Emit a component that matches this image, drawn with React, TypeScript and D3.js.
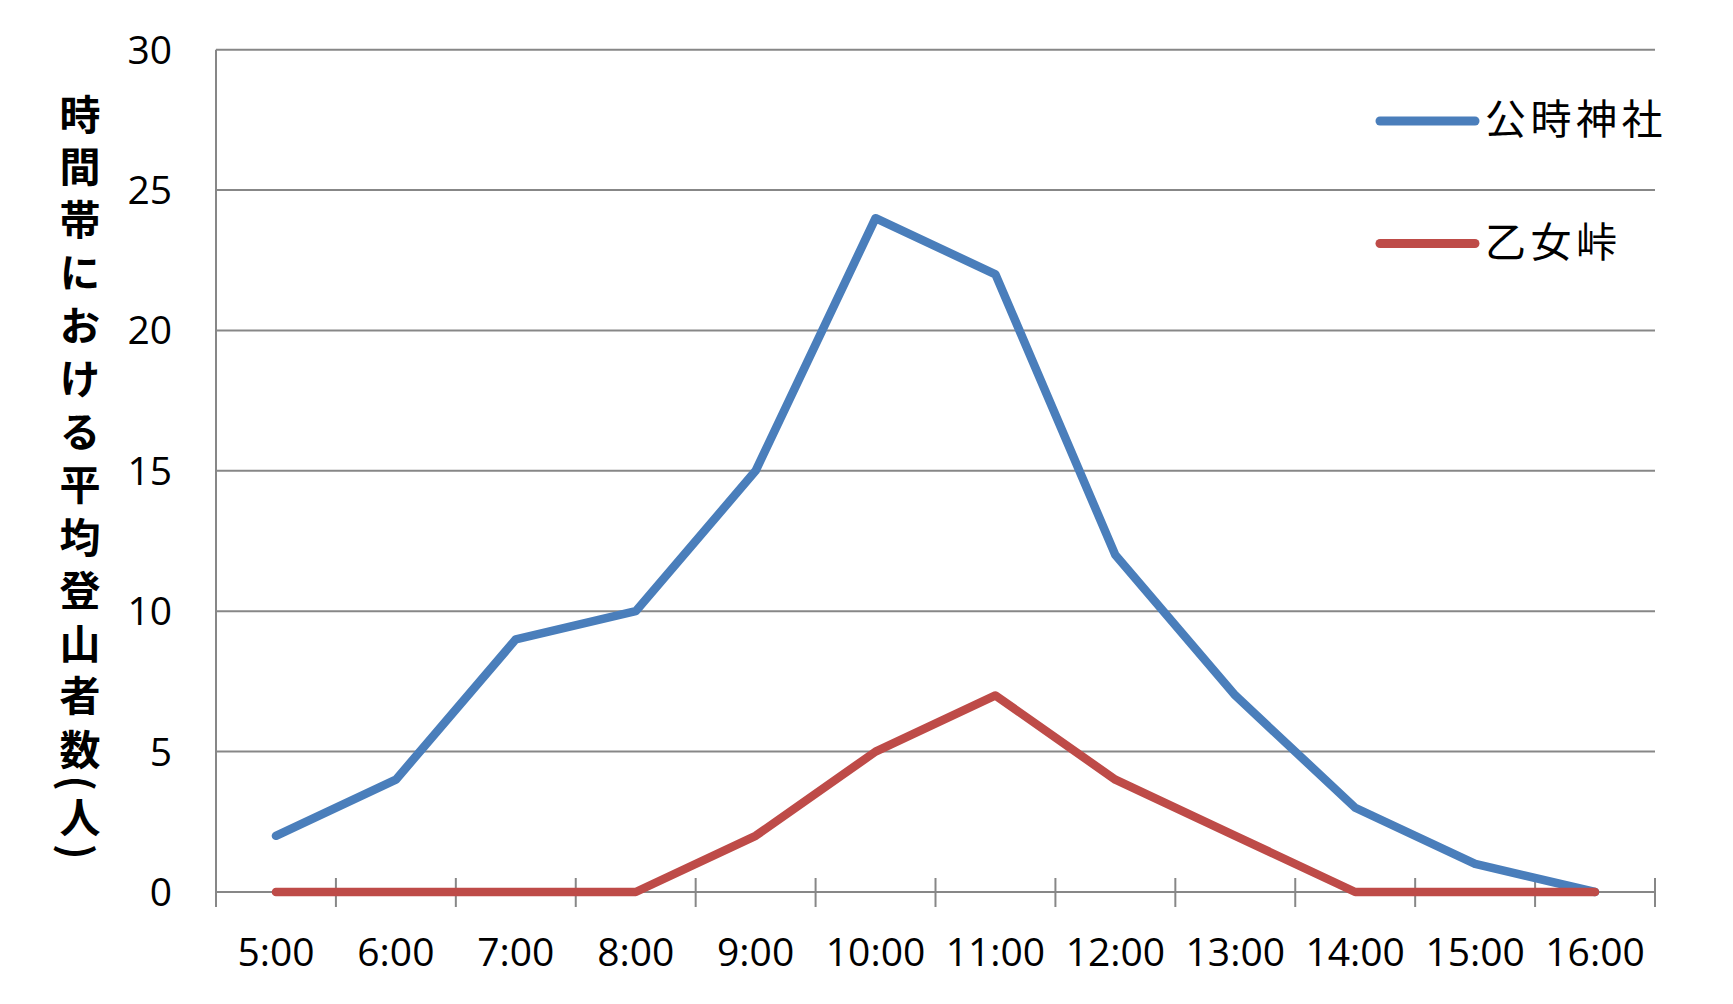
import React from "react";
import * as d3 from "d3";

const categories = ["5:00", "6:00", "7:00", "8:00", "9:00", "10:00", "11:00", "12:00", "13:00", "14:00", "15:00", "16:00"];
const seriesNames = ["公時神社", "乙女峠"];
const kintokiValues = [2, 4, 9, 10, 15, 24, 22, 12, 7, 3, 1, 0];
const otomeValues = [0, 0, 0, 0, 2, 5, 7, 4, 2, 0, 0, 0];
const yTicks = [0, 5, 10, 15, 20, 25, 30];
const yTitle = "時間帯における平均登山者数(人)";
const colors = ["#4A7EBB", "#BE4B48"];

const W = 1733;
const H = 1004;
const plot = { left: 216, right: 1655, top: 49.7, bottom: 892 };
const grid = "#878787";
const latin = "'Open Sans', 'Liberation Sans', sans-serif";
const cjk = "'Noto Sans CJK JP', sans-serif";

export default function App() {
  const x = d3.scaleBand<string>().domain(categories).range([plot.left, plot.right]).padding(0);
  const y = d3.scaleLinear().domain([0, 30]).range([plot.bottom, plot.top]);
  const cx = (c: string) => (x(c) as number) + x.bandwidth() / 2;
  const line = d3
    .line<number>()
    .x((_, i) => cx(categories[i]))
    .y((d) => y(d));
  const series = [kintokiValues, otomeValues];

  const tickXs = categories.map((c) => x(c) as number).concat([plot.right]);

  const titleChars = Array.from(yTitle);
  const titleMain = titleChars.slice(0, titleChars.length - 4).join("");
  const titleTail = titleChars.slice(titleChars.length - 4).join("");

  return (
    <svg
      width={W}
      height={H}
      style={{ position: "absolute", left: 0, top: 0, background: "#fff" }}
    >
      <rect x={0} y={0} width={W} height={H} fill="#fff" />
      {/* gridlines */}
      {yTicks.map((t) => (
        <line key={"g" + t} x1={plot.left} x2={plot.right} y1={y(t)} y2={y(t)} stroke={grid} strokeWidth={2} />
      ))}
      {/* y axis line */}
      <line x1={plot.left} x2={plot.left} y1={plot.top} y2={plot.bottom + 15} stroke={grid} strokeWidth={2} />
      {/* x tick marks (cross) */}
      {tickXs.map((tx, i) => (
        <line key={"t" + i} x1={tx} x2={tx} y1={plot.bottom - 14} y2={plot.bottom + 15} stroke={grid} strokeWidth={2} />
      ))}
      {/* y tick labels */}
      {yTicks.map((t) => (
        <text
          key={"yl" + t}
          x={172}
          y={y(t) + 14}
          textAnchor="end"
          fontFamily={latin}
          fontSize={39}
          fill="#000"
        >
          {t}
        </text>
      ))}
      {/* x tick labels */}
      {categories.map((c) => (
        <text key={"xl" + c} x={cx(c)} y={966} textAnchor="middle" fontFamily={latin} fontSize={39} fill="#000">
          {c}
        </text>
      ))}
      {/* series lines */}
      {series.map((vals, i) => (
        <path
          key={"s" + i}
          d={line(vals) as string}
          fill="none"
          stroke={colors[i]}
          strokeWidth={8.5}
          strokeLinecap="round"
          strokeLinejoin="round"
        />
      ))}
      {/* legend */}
      {seriesNames.map((name, i) => {
        const ly = i === 0 ? 121 : 243.5;
        return (
          <g key={"lg" + i}>
            <line x1={1380} x2={1475} y1={ly} y2={ly} stroke={colors[i]} strokeWidth={9} strokeLinecap="round" />
            <text
              x={1485}
              y={ly + 13}
              fontFamily={cjk}
              fontSize={41}
              letterSpacing={4.5}
              fill="#000"
            >
              {name}
            </text>
          </g>
        );
      })}
      {/* y axis title (vertical) */}
      <text
        x={80}
        y={93.5}
        style={{ writingMode: "vertical-rl" }}
        fontFamily={cjk}
        fontWeight="bold"
        fontSize={41}
        letterSpacing={11.9}
        fill="#000"
      >
        <tspan>{titleMain}</tspan>
        <tspan letterSpacing={6}>{titleTail}</tspan>
      </text>
    </svg>
  );
}
